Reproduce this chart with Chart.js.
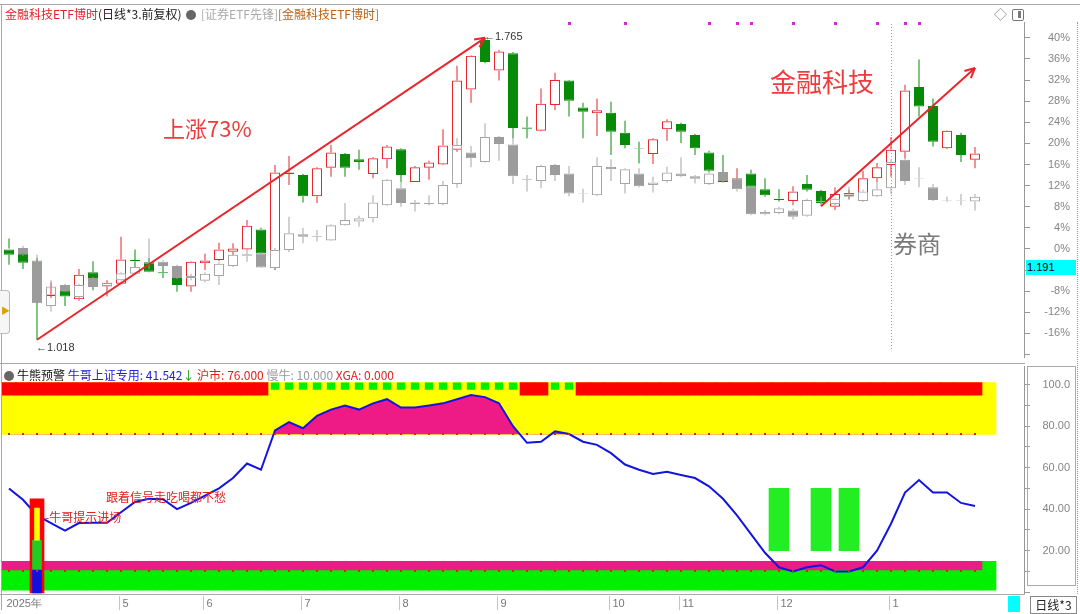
<!DOCTYPE html>
<html>
<head>
<meta charset="utf-8">
<script src="https://cdn.jsdelivr.net/npm/chart.js@4.4.1/dist/chart.umd.min.js"></script>
<style>
  body { margin: 0; background: #fff; font-family: "Noto Sans CJK SC", "Noto Sans", sans-serif; }
  #page { position: relative; width: 1080px; height: 614px; overflow: hidden; background: #fff; }
  .abs { position: absolute; }
  .txt { position: absolute; white-space: nowrap; font-size: 12px; line-height: 14px; }
  .hl { position: absolute; background: #a8a8a8; }
</style>
</head>
<body>
<div id="page">
  <div class="abs" style="left:0;top:0;width:1080px;height:362px"><canvas id="upper" width="1080" height="362"></canvas></div>
  <div class="abs" style="left:0;top:362px;width:1080px;height:252px"><canvas id="lower" width="1080" height="252"></canvas></div>

  <!-- frame lines -->
  <div class="hl" style="left:0;top:4px;width:1080px;height:1px"></div>
  <div class="hl" style="left:1px;top:4px;width:1px;height:606px"></div>
  <div class="hl" style="left:0;top:363px;width:1025px;height:1px"></div>
  <div class="hl" style="left:0;top:594px;width:1025px;height:1px"></div>
  <div class="abs" style="left:1077px;top:22px;height:572px;border-left:1px dotted #999"></div>
  <div class="abs" style="left:1027px;top:366px;width:47px;height:218px;border:1px solid #aaa"></div>

  <!-- header upper -->
  <div class="txt" style="left:5px;top:7px">
    <span style="color:#e8202a">金融科技ETF博时</span><span style="color:#222">(日线*3.前复权)</span>
    <span style="display:inline-block;width:10px;height:10px;border-radius:5px;background:#666;vertical-align:-1px;margin:0 2px"></span>
    <span style="color:#aaa">[证券ETF先锋]</span><span style="color:#c06010">[金融科技ETF博时]</span>
  </div>
  <div class="txt" style="left:994px;top:7px;color:#888;font-size:13px">◇</div>
  <div class="abs" style="left:1012px;top:9px;width:10px;height:10px;border:1px solid #777;border-radius:2px"></div>
  <div class="abs" style="left:1018px;top:11px;width:3px;height:7px;background:#777"></div>

  <!-- left tab -->
  <div class="abs" style="left:0;top:290px;width:9px;height:42px;border:1px solid #bbb;border-left:none;border-radius:0 4px 4px 0;background:#f6f6f6"></div>
  <div class="txt" style="left:1px;top:304px;color:#e0a000;font-size:9px">▶</div>

  <!-- upper annotations -->
  <div class="txt" style="left:163px;top:114px;font-size:22px;line-height:26px;color:#ee3b3b">上涨73%</div>
  <div class="txt" style="left:770px;top:66px;font-size:26px;line-height:30px;color:#ee3b3b">金融科技</div>
  <div class="txt" style="left:893px;top:229px;font-size:24px;line-height:28px;color:#7a7a7a">券商</div>
  <div class="txt" style="left:1026px;top:260px;width:49px;height:15px;background:#00ffff;font-family:'Liberation Sans',Arial,sans-serif;font-size:11px;line-height:15px;color:#000;padding-left:1px">1.191</div>

  <!-- header lower -->
  <div class="txt" style="left:4px;top:368px">
    <span style="display:inline-block;width:10px;height:10px;border-radius:5px;background:#666;vertical-align:-1px;margin-right:3px"></span><span style="color:#111">牛熊预警</span>
    <span style="color:#2222dd">牛哥上证专用: 41.542</span><span style="color:#119911">↓</span>
    <span style="color:#e02020">沪市: 76.000</span>
    <span style="color:#999">慢牛: 10.000</span>
    <span style="color:#e02020">XGA: 0.000</span>
  </div>
  <div class="txt" style="left:106px;top:490px;color:#e02020">跟着信号走吃喝都不愁</div>
  <div class="txt" style="left:45px;top:510px;color:#e02020">-牛哥提示进场</div>

  <!-- bottom right -->
  <div class="abs" style="left:1008px;top:596px;width:12px;height:16px;background:#00ffff"></div>
  <div class="txt" style="left:1030px;top:596px;width:45px;height:16px;border:1px solid #888;font-size:12px;line-height:16px;text-align:center;color:#222">日线*3</div>
</div>

<script>
// ---- data: 3-day candles, values in % relative to base ----
const mainOpen = [0.0,-0.6,-2.5,-8.9,-7.8,-9.5,-4.4,-7.1,-6.6,-2.1,
  -2.5,-4.4,-5.1,-7.1,-2.7,-2.1,-0.5,-0.1,3.7,-3.6,
  14.2,14.0,10.0,15.4,18.0,17.0,14.2,17.0,18.9,12.7,
  15.4,16.0,18.8,30.2,39.6,33.8,37.1,23.0,22.4,27.3,
  31.9,26.8,25.7,25.8,22.0,19.1,18.0,22.7,23.7,21.6,
  18.3,14.2,13.3,14.3,11.3,9.5,9.1,12.3,11.0,8.0,
  10.0,9.1,13.4,15.9,18.4,30.7,27.1,19.1,21.6,16.9];
const mainHigh = [2.0,-0.2,-1.7,-6.3,-6.8,-3.8,-2.3,-5.9,2.3,0.0,
  -1.7,-3.2,-4.4,-2.3,-0.9,1.2,1.1,5.5,4.0,15.9,
  17.6,14.2,15.5,19.7,18.2,18.8,17.4,19.7,19.1,15.7,
  16.7,22.7,34.7,36.7,40.0,37.7,37.3,25.1,30.4,33.4,
  32.0,27.7,28.5,27.9,24.3,20.3,21.0,24.6,23.9,21.8,
  18.6,17.8,15.3,15.0,13.4,11.3,11.9,14.0,11.2,11.7,
  11.2,14.8,16.3,21.2,31.1,35.9,28.5,22.5,22.0,19.3];
const mainLow = [-3.0,-3.8,-17.2,-9.3,-10.8,-9.8,-7.8,-9.0,-6.7,-3.4,
  -4.4,-5.5,-8.1,-8.1,-4.0,-2.3,-1.1,-0.2,-0.9,-4.0,
  12.1,8.8,8.7,13.7,13.7,15.0,13.4,15.3,12.6,12.7,
  13.1,15.9,18.4,27.7,35.2,31.9,21.0,21.0,22.3,26.3,
  25.1,21.0,21.4,17.8,19.1,16.2,16.1,20.5,20.1,17.8,
  14.6,12.6,13.1,11.7,9.9,9.0,8.3,10.9,8.5,7.4,
  9.5,9.0,12.7,13.7,17.2,25.1,19.4,18.9,16.5,15.3];
const mainClose = [-1.1,-2.6,-9.7,-8.6,-9.0,-4.9,-6.4,-6.4,-2.0,-2.3,
  -4.3,-4.6,-6.8,-2.4,-2.2,-0.1,0.1,4.4,-0.8,14.5,
  14.5,10.0,15.3,18.3,15.4,16.5,17.2,19.4,14.0,15.5,
  16.4,19.6,31.9,36.6,35.4,37.4,22.9,22.8,27.5,32.0,
  28.1,26.0,26.3,22.2,19.7,19.0,20.8,24.2,22.2,19.1,
  14.8,12.7,13.4,11.8,10.2,9.3,10.9,11.2,8.7,10.4,
  10.6,13.4,15.5,18.8,30.0,27.0,20.3,22.4,17.8,18.1];

const grayOpen = [null,0.2,-2.2,-10.8,-6.8,-9.1,-5.5,-7.0,-5.9,-4.7,
  -2.8,-2.4,-3.2,-5.5,-6.0,-5.1,-3.2,-1.3,-0.8,-3.6,
  -0.2,2.8,2.3,1.6,4.5,5.2,5.8,8.3,11.5,8.5,
  8.5,8.5,12.3,18.3,16.5,21.2,19.8,13.1,12.9,15.9,
  14.3,10.5,10.2,15.6,12.3,14.3,12.1,12.9,14.3,13.8,
  12.3,14.6,13.4,11.8,6.6,6.8,7.3,6.3,8.9,8.5,
  9.9,9.1,10.0,11.5,16.9,13.3,11.7,9.1,9.1,9.0];
const grayHigh = [null,0.6,-1.1,-5.9,-6.6,-6.6,-5.3,-6.4,-4.4,-3.0,
  2.0,-2.1,-3.0,-4.7,-4.4,-2.5,-0.9,-0.2,-0.6,0.2,
  6.1,4.0,3.6,4.7,8.7,6.3,10.2,13.3,12.5,9.3,
  10.2,12.9,21.0,19.5,23.8,21.4,22.0,14.0,15.9,16.1,
  15.7,11.4,17.4,17.0,15.3,15.3,13.7,15.6,17.4,14.0,
  14.6,15.0,13.6,11.9,7.4,8.0,7.6,9.5,9.9,9.7,
  11.8,11.2,12.7,16.9,17.4,15.5,12.3,9.9,10.4,10.4];
const grayLow = [null,-1.3,-10.4,-11.9,-8.1,-9.3,-7.4,-7.2,-6.1,-4.9,
  -3.8,-3.4,-5.7,-5.9,-6.3,-6.8,-3.4,-2.4,-3.6,-4.0,
  -0.6,1.1,1.4,1.5,4.4,4.2,5.0,8.1,8.0,7.1,
  8.3,8.3,11.6,15.5,16.4,16.7,12.3,10.9,11.5,12.9,
  10.0,8.8,10.0,12.9,10.5,11.7,10.7,12.6,13.6,12.4,
  12.1,12.7,10.9,6.4,6.4,6.6,5.6,6.1,8.3,8.3,
  9.3,9.1,9.8,10.4,12.1,11.7,9.1,8.9,8.3,7.3];
const grayClose = [null,-1.1,-10.3,-7.1,-8.0,-6.8,-7.2,-6.4,-4.6,-3.4,
  -2.5,-3.2,-5.5,-5.1,-4.7,-2.8,-1.1,-1.0,-3.5,-0.2,
  3.0,2.3,2.5,4.5,5.5,5.8,8.8,13.1,8.7,8.8,
  8.7,12.1,19.7,17.2,21.2,19.9,13.8,13.3,15.7,14.0,
  10.5,10.6,15.7,15.1,15.1,11.9,12.6,14.5,13.8,13.3,
  14.3,12.9,11.3,6.6,7.0,7.7,6.1,9.3,9.1,9.5,
  10.5,10.9,11.3,16.5,12.9,13.4,9.3,9.2,9.2,9.9];

// indicator line (牛哥上证专用)
const bullLine = [50,44.5,37,33.3,29.7,33.3,33.4,33.4,38.5,43.5,
  45,44.8,40,43,46.5,50,55,62,59,78,
  82,79,85,88,90,88,91,93,89,89,
  90,91,93,95,94,91,80,72,72.5,77.5,
  76.2,72.5,71,67,61.5,59,57,58,56.5,55,
  51,45,37,28,19,12,10,12,13,10,
  10,12,20,33,48,54,48,48,43,41.5];

const HU_SHI = 76;      // 沪市
const MAN_NIU = 10;     // 慢牛
const bandYellow = [76, 101];
const bandRedTop = [95, 101];
const bandGreenTop = [97.6, 101];
const bandGreenLow = [1, 14.8];
const bandPinkLow = [10.7, 14.8];
const signalBarIdx = [55, 58, 60];
const signalBarRange = [20, 50];
const entryIdx = 2;
const entryRed = [-1, 45], entryYellow = [25, 40.5], entryGreen = [10.7, 25], entryBlue = [-1, 10.7];

const signalDots = [40, 44, 50, 52, 53, 56, 59, 62, 64, 65];
const monthStarts = [0, 8, 14, 21, 28, 35, 43, 48, 55, 63];
const monthLabels = ['2025年', '5', '6', '7', '8', '9', '10', '11', '12', '1'];
const YEAR_START = 63;
const riseFrom = [2, -17.2], riseTo = [34, 40.0];
const reboundFrom = [58, 8.1], reboundTo = [69, 34.3];
const hiLabel = [34, '1.765'], loLabel = [2, '1.018'];

// ---- layout helpers ----
const N = mainOpen.length;          // 70 candles
const SLOTS = N + 3;                // empty room on the right
const slots = Array.from({length: SLOTS}, (_, i) => i);

const RED = '#e8262c', GREEN = '#078a07', GRAY_UP = '#a6a6a6', GRAY_DN = '#9c9c9c', CLEAR = 'rgba(0,0,0,0)';

function pad(arr) { return slots.map(i => i < arr.length ? arr[i] : null); }
function bodies(o, c) { return pad(o.map((v, i) => v == null ? null : [v, c[i]])); }
function upWick(o, c, h) { return pad(o.map((v, i) => v == null ? null : [Math.max(v, c[i]), h[i]])); }
function dnWick(o, c, l) { return pad(o.map((v, i) => v == null ? null : [l[i], Math.min(v, c[i])])); }
function upFlags(o, c) { return pad(o.map((v, i) => v == null ? true : c[i] >= v)); }

const mainUp = upFlags(mainOpen, mainClose);
const grayUp = upFlags(grayOpen, grayClose);

function segment(a, b) { const d = slots.map(() => null); d[a[0]] = a[1]; d[b[0]] = b[1]; return d; }

const candleBase = { type: 'bar', grouped: false, borderSkipped: false, inflateAmount: 0 };

function wickSet(data, colors, order) {
  return Object.assign({}, candleBase, { data, backgroundColor: colors, borderWidth: 0, barThickness: 1, order });
}

// keep the plot area exactly where the layout padding puts it
function fixAxis(s) { s.width = 46; s.paddingTop = 0; s.paddingBottom = 0; }

const upperMarks = {
  id: 'upperMarks',
  beforeDatasetsDraw(chart) {
    const {ctx, chartArea, scales: {x}} = chart;
    const xv = Math.round(x.getPixelForValue(YEAR_START)) + 0.5;
    ctx.save();
    ctx.strokeStyle = '#999';
    ctx.setLineDash([1, 2]);
    ctx.beginPath(); ctx.moveTo(xv, chartArea.top + 2); ctx.lineTo(xv, chartArea.bottom - 6); ctx.stroke();
    ctx.restore();
  },
  afterDatasetsDraw(chart) {
    const {ctx, chartArea, scales: {x, y}} = chart;
    ctx.save();
    // signal dots on top edge
    ctx.fillStyle = '#e020e0';
    signalDots.forEach(i => ctx.fillRect(Math.round(x.getPixelForValue(i)) - 1, chartArea.top, 3, 3));
    // arrow heads
    ctx.strokeStyle = RED; ctx.lineWidth = 2;
    chart.data.datasets.forEach((ds, di) => {
      if (!ds.arrow) return;
      const pts = chart.getDatasetMeta(di).data.filter((p, i) => ds.data[i] != null);
      const a = pts[0], b = pts[pts.length - 1];
      const ang = Math.atan2(b.y - a.y, b.x - a.x);
      ctx.beginPath();
      [0.45, -0.45].forEach(d => {
        ctx.moveTo(b.x, b.y);
        ctx.lineTo(b.x - 11 * Math.cos(ang + d), b.y - 11 * Math.sin(ang + d));
      });
      ctx.stroke();
    });
    // price labels
    ctx.fillStyle = '#333'; ctx.font = '11px "Liberation Sans", Arial, sans-serif'; ctx.textBaseline = 'middle';
    ctx.fillText('←' + hiLabel[1], x.getPixelForValue(hiLabel[0]) - 1, y.getPixelForValue(mainHigh[hiLabel[0]]) - 1);
    ctx.fillText('←' + loLabel[1], x.getPixelForValue(loLabel[0]) - 1, y.getPixelForValue(mainLow[loLabel[0]]) + 8);
    ctx.restore();
  }
};

const axisFont = { size: 11, family: '"Liberation Sans", Arial, sans-serif' };

new Chart(document.getElementById('upper'), {
  type: 'bar',
  data: {
    labels: slots,
    datasets: [
      wickSet(upWick(mainOpen, mainClose, mainHigh), mainUp.map(u => u ? RED : GREEN), 8),
      wickSet(dnWick(mainOpen, mainClose, mainLow), mainUp.map(u => u ? RED : GREEN), 8),
      Object.assign({}, candleBase, {
        data: bodies(mainOpen, mainClose), barThickness: 10, borderWidth: 1,
        backgroundColor: mainUp.map(u => u ? CLEAR : GREEN), borderColor: mainUp.map(u => u ? RED : GREEN), order: 7
      }),
      wickSet(upWick(grayOpen, grayClose, grayHigh), GRAY_UP, 6),
      wickSet(dnWick(grayOpen, grayClose, grayLow), GRAY_UP, 6),
      Object.assign({}, candleBase, {
        data: bodies(grayOpen, grayClose), barThickness: 10, borderWidth: 1,
        backgroundColor: grayUp.map(u => u ? CLEAR : GRAY_DN), borderColor: grayUp.map(u => u ? GRAY_UP : GRAY_DN), order: 5
      }),
      { type: 'line', arrow: true, data: segment(riseFrom, riseTo), spanGaps: true, borderColor: RED, borderWidth: 2, pointRadius: 0, order: 1 },
      { type: 'line', arrow: true, data: segment(reboundFrom, reboundTo), spanGaps: true, borderColor: RED, borderWidth: 2, pointRadius: 0, order: 1 }
    ]
  },
  options: {
    responsive: false, animation: false, events: [],
    layout: { padding: { top: 22, bottom: 4.8, left: 2, right: 10 } },
    plugins: { legend: { display: false }, tooltip: { enabled: false } },
    scales: {
      x: { display: false },
      y: {
        position: 'right', min: -20.5, max: 43,
        afterFit: fixAxis,
        ticks: { stepSize: 4, includeBounds: false, autoSkip: false, color: '#858585', font: axisFont, crossAlign: 'far',
          callback: v => v >= -16 ? v + '%' : '' },
        grid: { drawOnChartArea: false, drawTicks: true, tickLength: 6, color: '#999' },
        border: { display: true, color: '#999' }
      }
    }
  },
  plugins: [upperMarks]
});

// ---- lower panel ----
const bullFlag = pad(bullLine.map(v => v >= HU_SHI));

const lowerMarks = {
  id: 'lowerMarks',
  afterDatasetsDraw(chart) {
    const {ctx, scales: {x, y}} = chart;
    ctx.save();
    ctx.fillStyle = '#e02020';
    [HU_SHI, MAN_NIU].forEach(level => {
      const py = Math.round(y.getPixelForValue(level));
      for (let i = 0; i < N; i++) ctx.fillRect(Math.round(x.getPixelForValue(i)) - 1, py - 1, 2, 2);
    });
    ctx.restore();
  },
  afterDraw(chart) {
    const {ctx, chartArea, scales: {x}} = chart;
    ctx.save();
    ctx.font = '11px "Liberation Sans", Arial, sans-serif';
    ctx.textBaseline = 'middle';
    monthStarts.forEach((idx, k) => {
      const px = Math.round(x.getPixelForValue(idx)) + 0.5;
      if (k > 0) {
        ctx.strokeStyle = '#c4c4c4';
        ctx.beginPath(); ctx.moveTo(px - 2, chartArea.bottom + 3); ctx.lineTo(px - 2, chartArea.bottom + 17); ctx.stroke();
      }
      ctx.fillStyle = '#777';
      ctx.fillText(monthLabels[k], k > 0 ? px + 1 : px - 3, chartArea.bottom + 11);
    });
    ctx.restore();
  }
};

function band(range, keep) { return slots.map(i => keep(i) ? range : null); }
const bandBase = { type: 'bar', grouped: false, borderWidth: 0, categoryPercentage: 1, barPercentage: 1 };

new Chart(document.getElementById('lower'), {
  type: 'bar',
  data: {
    labels: slots,
    datasets: [
      Object.assign({}, bandBase, { data: band(bandYellow, i => i <= N), backgroundColor: '#ffff00', order: 20 }),
      Object.assign({}, bandBase, { data: band(bandRedTop, i => i < N && !bullFlag[i]), backgroundColor: '#ff0000', order: 19 }),
      Object.assign({}, bandBase, { data: band(bandGreenTop, i => i < N && bullFlag[i]), backgroundColor: '#00ee00', barPercentage: 0.6, order: 18 }),
      Object.assign({}, bandBase, { data: band(bandGreenLow, i => i <= N), backgroundColor: '#00f000', order: 17 }),
      Object.assign({}, bandBase, { data: band(bandPinkLow, i => i < N), backgroundColor: '#ee1a86', order: 16 }),
      { type: 'line', data: pad(bullLine), borderColor: '#1414e0', borderWidth: 2, pointRadius: 0, tension: 0,
        fill: { target: { value: HU_SHI }, above: '#ee1a86', below: CLEAR }, order: 12 },
      Object.assign({}, bandBase, { data: band(signalBarRange, i => signalBarIdx.includes(i)), backgroundColor: '#22ee22', barThickness: 20, order: 10 }),
      Object.assign({}, bandBase, { data: band(entryRed, i => i === entryIdx), backgroundColor: '#ff0000', barThickness: 14, order: 9 }),
      Object.assign({}, bandBase, { data: band(entryGreen, i => i === entryIdx), backgroundColor: '#22cc22', barThickness: 9, order: 8 }),
      Object.assign({}, bandBase, { data: band(entryYellow, i => i === entryIdx), backgroundColor: '#ffff00', barThickness: 5, order: 7 }),
      Object.assign({}, bandBase, { data: band(entryBlue, i => i === entryIdx), backgroundColor: '#1010e0', barThickness: 9, order: 6 })
    ]
  },
  options: {
    responsive: false, animation: false, events: [],
    layout: { padding: { top: 4, bottom: 20.8, left: 2, right: 10 } },
    plugins: { legend: { display: false }, tooltip: { enabled: false } },
    scales: {
      x: { display: false },
      y: {
        position: 'right', min: -0.5, max: 109,
        afterFit: fixAxis,
        ticks: { stepSize: 10, includeBounds: false, autoSkip: false, color: '#858585', font: axisFont, crossAlign: 'far',
          callback: v => (v > 0 && v % 20 === 0) ? (v === 100 ? '100.0' : v.toFixed(2)) : '' },
        grid: { drawOnChartArea: false, drawTicks: true, tickLength: 6, color: '#999' },
        border: { display: true, color: '#999' }
      }
    }
  },
  plugins: [lowerMarks]
});
</script>
</body>
</html>
